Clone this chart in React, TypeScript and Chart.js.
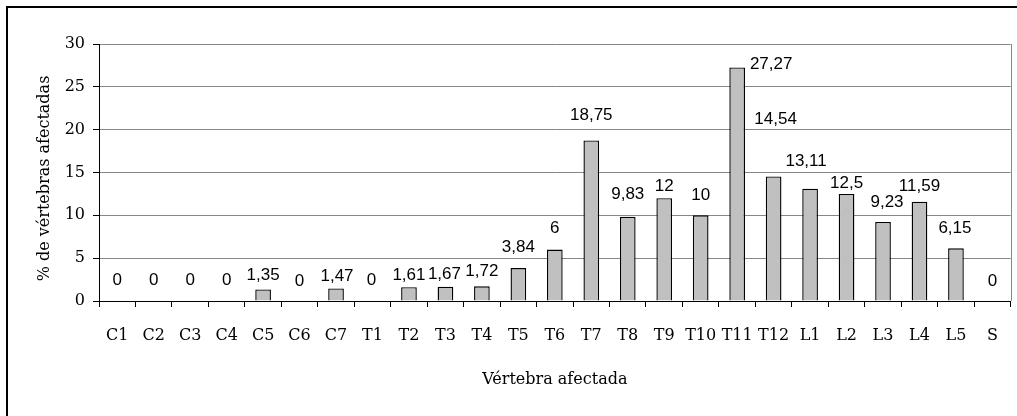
import React, { useEffect, useRef } from "react";
import { Chart, registerables } from "chart.js";

Chart.register(...registerables);

const categories = [
  "C1", "C2", "C3", "C4", "C5", "C6", "C7",
  "T1", "T2", "T3", "T4", "T5", "T6", "T7", "T8", "T9", "T10", "T11", "T12",
  "L1", "L2", "L3", "L4", "L5", "S",
];

const percentages = [
  0, 0, 0, 0, 1.35, 0, 1.47,
  0, 1.61, 1.67, 1.72, 3.84, 6, 18.75, 9.83, 12, 10, 27.27, 14.54,
  13.11, 12.5, 9.23, 11.59, 6.15, 0,
];

const yTicks = [0, 5, 10, 15, 20, 25, 30];

// label placement (pixels): rise above bar top, horizontal shift
const labelRise = [
  21, 21, 21, 21, 14, 20, 12,
  21, 12, 12, 15, 21, 21, 25, 22, 12, 20, 3, 57,
  27, 11, 20, 15, 20, 20,
];
const labelDx = [
  0, 0, 0, 0, 0, 0, 1,
  -1, 0, -1, 0, 0, 0, 0, 0, 0, 0, 34, 2,
  -4, 0, 4, 0, -1, 0,
];

const yTitle = "% de vértebras afectadas";
const xTitle = "Vértebra afectada";

const SERIF = "'DejaVu Serif', serif";
const SANS = "'Liberation Sans', Arial, sans-serif";

const decorPlugin = {
  id: "decor",
  afterDraw(chart: any) {
    const { ctx, chartArea } = chart;
    ctx.save();
    // outer frame (left and top edges visible)
    ctx.strokeStyle = "#000";
    ctx.lineWidth = 2;
    ctx.beginPath();
    ctx.moveTo(7, 1100);
    ctx.lineTo(7, 7);
    ctx.lineTo(2000, 7);
    ctx.stroke();
    // right plot border
    ctx.strokeStyle = "#868686";
    ctx.lineWidth = 1;
    ctx.beginPath();
    ctx.moveTo(Math.round(chartArea.right) + 0.5, chartArea.top);
    ctx.lineTo(Math.round(chartArea.right) + 0.5, chartArea.bottom);
    ctx.stroke();
    // data labels
    const meta = chart.getDatasetMeta(0);
    ctx.fillStyle = "#000";
    ctx.font = `17px ${SANS}`;
    ctx.textAlign = "center";
    ctx.textBaseline = "middle";
    meta.data.forEach((bar: any, i: number) => {
      const txt = String(percentages[i]).replace(".", ",");
      ctx.fillText(txt, bar.x + labelDx[i], bar.y - labelRise[i]);
    });
    // axis titles
    ctx.font = `16px ${SERIF}`;
    ctx.fillText(xTitle, (chartArea.left + chartArea.right) / 2, 380);
    ctx.translate(45, (chartArea.top + chartArea.bottom) / 2 + 6);
    ctx.rotate(-Math.PI / 2);
    ctx.fillText(yTitle, 0, 0);
    ctx.restore();
  },
};

export default function App() {
  const ref = useRef<HTMLCanvasElement>(null);
  useEffect(() => {
    document.body.style.margin = "0";
    const chart = new Chart(ref.current!, {
      type: "bar",
      data: {
        labels: categories,
        datasets: [
          {
            data: percentages,
            backgroundColor: "#C0C0C0",
            borderColor: "#000",
            borderWidth: 1.4,
            barPercentage: 0.43,
            categoryPercentage: 1,
          },
        ],
      },
      options: {
        animation: false,
        responsive: false,
        events: [],
        layout: { padding: { left: 0, right: 5, top: 44, bottom: 0 } },
        plugins: { legend: { display: false }, tooltip: { enabled: false } },
        scales: {
          x: {
            afterFit: (s: any) => {
              s.height = 115;
            },
            grid: {
              offset: true,
              drawOnChartArea: false,
              drawTicks: true,
              tickLength: 6,
              tickColor: "#000",
            },
            border: { color: "#000", width: 1 },
            ticks: {
              color: "#000",
              font: { family: SERIF, size: 16 },
              padding: 19,
              maxRotation: 0,
              autoSkip: false,
            },
          },
          y: {
            min: 0,
            max: 30,
            afterFit: (s: any) => {
              s.width = 99;
            },
            afterBuildTicks: (s: any) => {
              s.ticks = yTicks.map((v) => ({ value: v }));
            },
            grid: {
              color: "#868686",
              lineWidth: 1,
              drawTicks: true,
              tickLength: 6,
              tickColor: "#000",
            },
            border: { color: "#000", width: 1 },
            ticks: {
              color: "#000",
              font: { family: SERIF, size: 16 },
              padding: 8,
            },
          },
        },
      },
      plugins: [decorPlugin],
    });
    return () => chart.destroy();
  }, []);
  return (
    <div style={{ position: "absolute", left: 0, top: 0, width: 1017, height: 416, background: "#fff" }}>
      <canvas ref={ref} width={1017} height={416} />
    </div>
  );
}
